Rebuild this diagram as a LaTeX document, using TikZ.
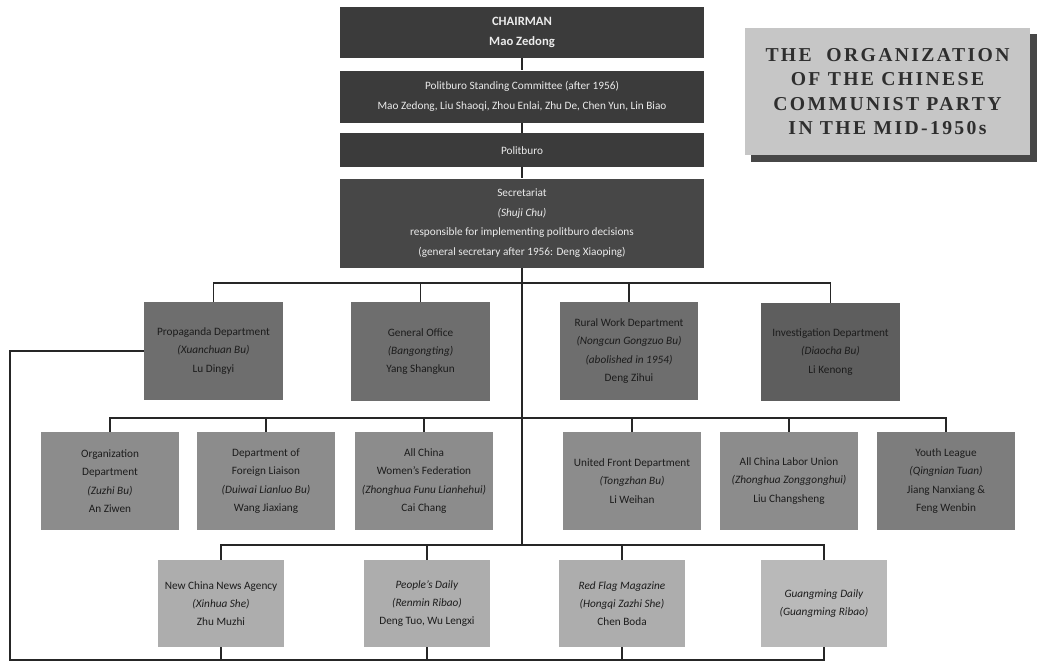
\documentclass[tikz,border=0pt]{standalone}
\usepackage{xcolor}
\usepackage{fontspec}
\setmainfont{Carlito}
\newfontfamily\titlefont[LetterSpace=12]{Liberation Serif}
\usepackage{tikz}
\usetikzlibrary{positioning,calc}

\definecolor{topgray}{HTML}{3B3B3B}
\definecolor{secgray}{HTML}{474747}
\definecolor{deptgray}{HTML}{6E6E6E}
\definecolor{invgray}{HTML}{5E5E5E}
\definecolor{orggray}{HTML}{8C8C8C}
\definecolor{youthgray}{HTML}{7D7D7D}
\definecolor{pressgray}{HTML}{ADADAD}
\definecolor{gmgray}{HTML}{B9B9B9}
\definecolor{titlegray}{HTML}{C6C6C6}
\definecolor{inkgray}{HTML}{1C1C1C}

\tikzset{
  topbox/.style={fill=topgray, text=white!92!black, align=center,
    minimum width=9.1cm, inner sep=0pt, font=\fontsize{8}{14}\selectfont},
  deptbox/.style={fill=#1, text=inkgray, align=center, minimum width=3.45cm,
    minimum height=2.45cm, inner sep=0pt, font=\fontsize{8}{13}\selectfont},
  pressbox/.style={fill=#1, text=inkgray, align=center, minimum width=3.15cm,
    minimum height=2.175cm, inner sep=0pt, font=\fontsize{8}{13}\selectfont},
  link/.style={line width=1.2pt, draw=black!85}
}

\begin{document}
\begin{tikzpicture}[x=0.025cm, y=-0.025cm]
  \useasboundingbox (0,0) rectangle (1045,666);
  % party centre
  \node[topbox, minimum height=1.275cm, font=\bfseries\fontsize{9}{14}\selectfont]
       (chair) at (522,32.5) {CHAIRMAN\\Mao Zedong};
  \node[topbox, minimum height=1.3cm, below=0.3cm of chair] (stand)
       {Politburo Standing Committee (after 1956)\\
        Mao Zedong, Liu Shaoqi, Zhou Enlai, Zhu De, Chen Yun, Lin Biao};
  \node[topbox, minimum height=0.85cm, below=0.25cm of stand] (polit) {Politburo};
  \node[topbox, fill=secgray, minimum height=2.225cm, below=0.275cm of polit] (secr)
       {Secretariat\\ \textit{(Shuji Chu)}\\
        responsible for implementing politburo decisions\\
        (general secretary after 1956: Deng Xiaoping)};
  % title plate
  \fill[black!72] (751,34) rectangle (1037,162);
  \node[fill=titlegray, text=black!82, minimum width=7.125cm, minimum height=3.175cm,
        inner sep=0pt, align=center,
        font=\titlefont\bfseries\fontsize{14}{17.4}\selectfont]
       (title) at (887.5,91.5)
       {THE\ \ ORGANIZATION\\OF THE CHINESE\\COMMUNIST PARTY\\IN THE MID-1950s};
  % central departments
  \node[deptbox=deptgray] (prop) at (213.5,351)
       {Propaganda Department\\ \textit{(Xuanchuan Bu)}\\Lu Dingyi};
  \node[deptbox=deptgray] (gen) at (420.5,351.5)
       {General Office\\ \textit{(Bangongting)}\\Yang Shangkun};
  \node[deptbox=deptgray] (rural) at (629,351)
       {Rural Work Department\\ \textit{(Nongcun Gongzuo Bu)}\\
        \textit{(abolished in 1954)}\\Deng Zihui};
  \node[deptbox=invgray] (inv) at (830.5,352)
       {Investigation Department\\ \textit{(Diaocha Bu)}\\Li Kenong};
  % mass organizations
  \node[deptbox=orggray] (org) at (110,481)
       {Organization\\Department\\ \textit{(Zuzhi Bu)}\\An Ziwen};
  \node[deptbox=orggray] (forl) at (266,481)
       {Department of\\Foreign Liaison\\ \textit{(Duiwai Lianluo Bu)}\\Wang Jiaxiang};
  \node[deptbox=orggray] (women) at (424,481)
       {All China\\Women's Federation\\ \textit{(Zhonghua Funu Lianhehui)}\\Cai Chang};
  \node[deptbox=orggray] (unit) at (632,481)
       {United Front Department\\ \textit{(Tongzhan Bu)}\\Li Weihan};
  \node[deptbox=orggray] (labor) at (789,481)
       {All China Labor Union\\ \textit{(Zhonghua Zonggonghui)}\\Liu Changsheng};
  \node[deptbox=youthgray] (youth) at (946,481)
       {Youth League\\ \textit{(Qingnian Tuan)}\\Jiang Nanxiang \&\\Feng Wenbin};
  % press
  \node[pressbox=pressgray] (xin) at (221,603.5)
       {New China News Agency\\ \textit{(Xinhua She)}\\Zhu Muzhi};
  \node[pressbox=pressgray] (pd) at (427,603.5)
       {\textit{People's Daily}\\ \textit{(Renmin Ribao)}\\Deng Tuo, Wu Lengxi};
  \node[pressbox=pressgray] (rf) at (622,603.5)
       {\textit{Red Flag Magazine}\\ \textit{(Hongqi Zazhi She)}\\Chen Boda};
  \node[pressbox=gmgray] (gm) at (824,603.5)
       {\textit{Guangming Daily}\\ \textit{(Guangming Ribao)}};
  % connectors
  \coordinate (bus2) at (522,283);
  \coordinate (bus3) at (522,418);
  \coordinate (bus4) at (522,545);
  \coordinate (floor) at (10,660);
  \draw[link] (chair) -- (stand);
  \draw[link] (stand) -- (polit);
  \draw[link] (polit) -- (secr);
  \draw[link] (secr) -- (bus4);
  \draw[link] (prop) |- (bus2) -| (inv);
  \foreach \n in {gen,rural}
    \draw[link] (\n) -- (\n |- bus2);
  \draw[link] (org) |- (bus3) -| (youth);
  \foreach \n in {forl,women,unit,labor}
    \draw[link] (\n) -- (\n |- bus3);
  \draw[link] (xin) |- (bus4) -| (gm);
  \foreach \n in {pd,rf}
    \draw[link] (\n) -- (\n |- bus4);
  \draw[link] (prop) -| (floor) -| (gm);
  \foreach \n in {xin,pd,rf}
    \draw[link] (\n) -- (\n |- floor);
\end{tikzpicture}
\end{document}
